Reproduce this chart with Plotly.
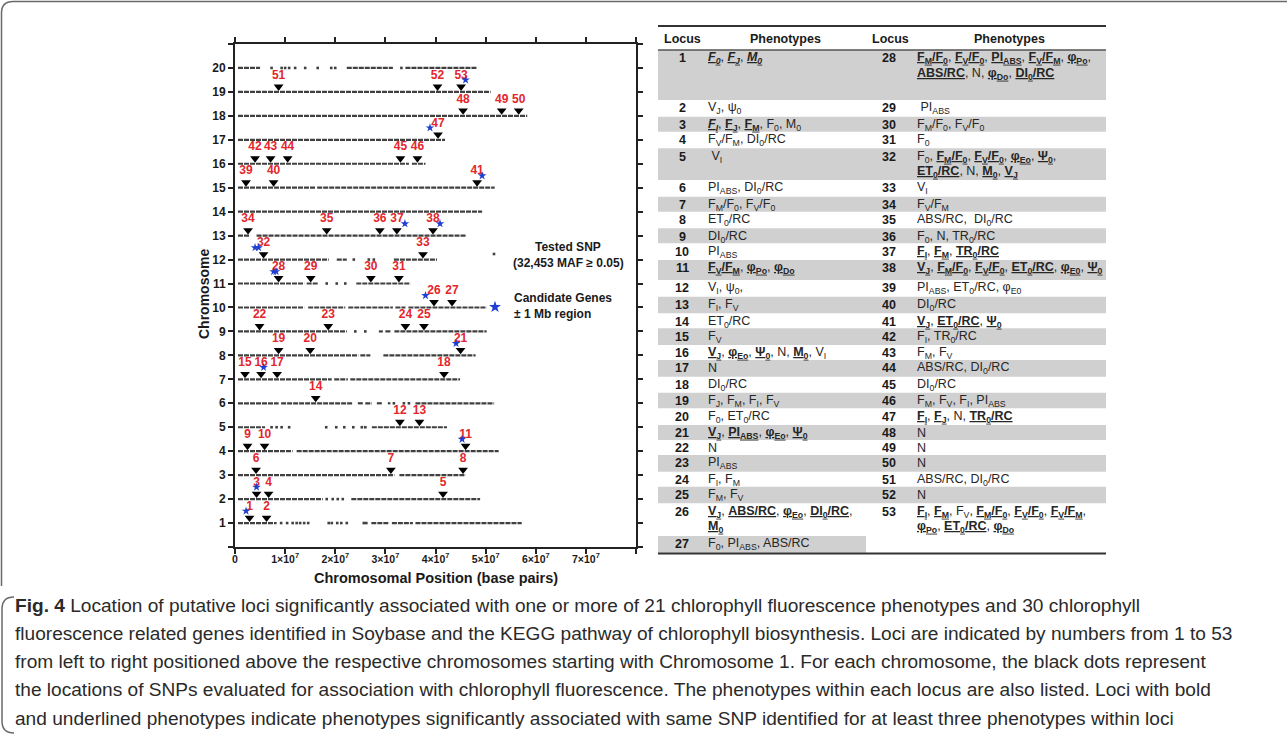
import plotly.graph_objects as go

# ---------------- data ----------------
CHROMOSOMES = list(range(1, 21))

# dense runs of tested SNPs on each chromosome (start Mb, end Mb)
SNP_RUNS = {
    1: [(0.6, 8.3), (27.2, 30.7), (31.3, 35.5), (36.0, 57.2)],
    2: [(0.6, 17.5), (23.2, 48.9)],
    3: [(0.6, 31.8), (32.8, 46.0)],
    4: [(0.6, 11.5), (12.3, 52.6)],
    5: [(0.6, 6.0), (27.3, 42.3)],
    6: [(0.6, 8.7), (9.2, 23.5), (24.5, 25.5), (26.0, 27.3), (28.3, 29.3), (30.5, 31.0), (36.0, 51.7)],
    7: [(0.6, 19.3), (19.8, 22.5), (23.0, 44.9)],
    8: [(0.6, 24.6), (25.0, 27.0), (29.6, 48.0)],
    9: [(0.6, 22.3), (28.7, 29.5), (30.0, 31.2), (31.8, 50.2)],
    10: [(0.6, 13.8), (14.6, 22.0), (22.6, 31.5), (32.0, 34.0), (34.6, 50.2)],
    11: [(0.6, 13.8), (14.3, 16.5), (24.2, 35.0)],
    12: [(0.6, 18.7), (20.3, 22.3), (31.7, 40.3)],
    13: [(0.6, 3.0), (4.3, 46.2)],
    14: [(0.6, 49.3)],
    15: [(0.6, 16.0), (16.4, 51.8)],
    16: [(0.6, 34.7), (35.3, 38.0)],
    17: [(0.6, 41.9)],
    18: [(0.6, 58.3)],
    19: [(0.6, 51.0)],
    20: [(0.6, 5.0), (22.3, 31.5), (34.0, 48.2)],
}
# isolated SNPs (Mb)
SNP_SPARSE = {
    1: [9.2, 10.4, 11.5, 12.3, 13.0, 13.8, 14.6, 18.7, 19.3, 20.4, 21.2, 22.3, 25.7, 26.2],
    2: [18.3, 19.5, 20.5, 21.5],
    5: [7.3, 8.3, 9.3, 10.8, 18.2, 20.2, 21.8, 23.6, 25.3, 26.0],
    6: [31.7, 33.7, 34.7],
    9: [24.0, 26.0],
    11: [18.3, 20.3, 22.0],
    12: [23.7, 26.7, 27.7],
    20: [7.3, 9.3, 10.0, 10.8, 12.0, 14.0, 16.5, 19.2, 20.0, 33.2],
}

LOCUS_ID = list(range(1, 54))
LOCUS_CHR = [1, 1, 2, 2, 2, 3, 3, 3, 4, 4, 4, 5, 5, 6, 7, 7, 7, 7, 8, 8, 8,
             9, 9, 9, 9, 10, 10, 11, 11, 11, 11, 12, 12, 13, 13, 13, 13, 13,
             15, 15, 15, 16, 16, 16, 16, 16, 17, 18, 18, 18, 19, 19, 19]
LOCUS_POS_MB = [2.9, 6.3, 4.3, 6.7, 41.5, 4.2, 31.1, 45.5, 2.5, 5.9, 46.0,
                32.9, 36.8, 16.1, 2.0, 5.2, 8.4, 41.7, 8.7, 15.0, 45.0,
                4.9, 18.6, 34.0, 37.7, 39.7, 43.3, 8.7, 15.1, 27.1, 32.7,
                5.7, 37.5, 2.6, 18.3, 28.9, 32.3, 39.5, 2.2, 7.7, 48.3,
                4.0, 7.1, 10.5, 33.0, 36.4, 40.5, 45.5, 53.2, 56.6, 8.7, 40.4, 45.1]

GENE_CHR = [1, 2, 4, 7, 8, 10, 11, 11, 12, 12, 13, 13, 15, 17, 19]
GENE_POS_MB = [2.2, 4.3, 45.3, 5.7, 44.1, 38.0, 7.7, 8.2, 4.0, 4.7, 33.9, 40.9, 49.3, 38.9, 46.0]

X_TICK_VALS = [0, 1e7, 2e7, 3e7, 4e7, 5e7, 6e7, 7e7, 8e7]
X_TICK_TEXT = ["0"] + [f"{i}×10<sup>7</sup>" for i in range(1, 8)] + [""]


def U(t):
    return f"<b><u>{t}</u></b>"


def UI(t):
    return f"<b><i><u>{t}</u></i></b>"


PHENO_LEFT = [
    UI("F<sub>0</sub>") + ", " + UI("F<sub>J</sub>") + ", " + UI("M<sub>0</sub>"),
    "V<sub>J</sub>, ψ<sub>0</sub>",
    UI("F<sub>I</sub>") + ", " + U("F<sub>J</sub>") + ", " + U("F<sub>M</sub>") + ", F<sub>0</sub>, M<sub>0</sub>",
    "F<sub>V</sub>/F<sub>M</sub>, DI<sub>0</sub>/RC",
    "\u00a0V<sub>I</sub>",
    "PI<sub>ABS</sub>, DI<sub>0</sub>/RC",
    "F<sub>M</sub>/F<sub>0</sub>, F<sub>V</sub>/F<sub>0</sub>",
    "ET<sub>0</sub>/RC",
    "DI<sub>0</sub>/RC",
    "PI<sub>ABS</sub>",
    U("F<sub>V</sub>/F<sub>M</sub>") + ", " + U("φ<sub>Po</sub>") + ", " + U("φ<sub>Do</sub>"),
    "V<sub>I</sub>, ψ<sub>0</sub>,",
    "F<sub>I</sub>, F<sub>V</sub>",
    "ET<sub>0</sub>/RC",
    "F<sub>V</sub>",
    U("V<sub>J</sub>") + ", " + U("φ<sub>Eo</sub>") + ", " + U("Ψ<sub>0</sub>") + ", N, " + U("M<sub>0</sub>") + ", V<sub>I</sub>",
    "N",
    "DI<sub>0</sub>/RC",
    "F<sub>J</sub>, F<sub>M</sub>, F<sub>I</sub>, F<sub>V</sub>",
    "F<sub>0</sub>, ET<sub>0</sub>/RC",
    U("V<sub>J</sub>") + ", " + U("PI<sub>ABS</sub>") + ", " + U("φ<sub>Eo</sub>") + ", " + U("Ψ<sub>0</sub>"),
    "N",
    "PI<sub>ABS</sub>",
    "F<sub>I</sub>, F<sub>M</sub>",
    "F<sub>M</sub>, F<sub>V</sub>",
    U("V<sub>J</sub>") + ", " + U("ABS/RC") + ", " + U("φ<sub>Eo</sub>") + ", " + U("DI<sub>0</sub>/RC") + ",<br>" + U("M<sub>0</sub>"),
    "F<sub>0</sub>, PI<sub>ABS</sub>, ABS/RC",
]
PHENO_RIGHT = [
    U("F<sub>M</sub>/F<sub>0</sub>") + ", " + U("F<sub>V</sub>/F<sub>0</sub>") + ", " + U("PI<sub>ABS</sub>") + ", "
    + U("F<sub>V</sub>/F<sub>M</sub>") + ", " + U("φ<sub>Po</sub>") + ",<br>" + U("ABS/RC") + ", N, "
    + U("φ<sub>Do</sub>") + ", " + U("DI<sub>0</sub>/RC"),
    "\u00a0PI<sub>ABS</sub>",
    "F<sub>M</sub>/F<sub>0</sub>, F<sub>V</sub>/F<sub>0</sub>",
    "F<sub>0</sub>",
    "F<sub>0</sub>, " + U("F<sub>M</sub>/F<sub>0</sub>") + ", " + U("F<sub>V</sub>/F<sub>0</sub>") + ", " + U("φ<sub>Eo</sub>")
    + ", " + U("Ψ<sub>0</sub>") + ",<br>" + U("ET<sub>0</sub>/RC") + ", N, " + U("M<sub>0</sub>") + ", " + U("V<sub>J</sub>"),
    "V<sub>I</sub>",
    "F<sub>V</sub>/F<sub>M</sub>",
    "ABS/RC,\u00a0 DI<sub>0</sub>/RC",
    "F<sub>0</sub>, N, TR<sub>0</sub>/RC",
    U("F<sub>I</sub>") + ", " + U("F<sub>M</sub>") + ", " + U("TR<sub>0</sub>/RC"),
    U("V<sub>J</sub>") + ", " + U("F<sub>M</sub>/F<sub>0</sub>") + ", " + U("F<sub>V</sub>/F<sub>0</sub>") + ", "
    + U("ET<sub>0</sub>/RC") + ", " + U("φ<sub>E0</sub>") + ", " + U("Ψ<sub>0</sub>"),
    "PI<sub>ABS</sub>, ET<sub>0</sub>/RC, φ<sub>E0</sub>",
    "DI<sub>0</sub>/RC",
    U("V<sub>J</sub>") + ", " + U("ET<sub>0</sub>/RC") + ", " + U("Ψ<sub>0</sub>"),
    "F<sub>I</sub>, TR<sub>0</sub>/RC",
    "F<sub>M</sub>, F<sub>V</sub>",
    "ABS/RC, DI<sub>0</sub>/RC",
    "DI<sub>0</sub>/RC",
    "F<sub>M</sub>, F<sub>V</sub>, F<sub>I</sub>, PI<sub>ABS</sub>",
    U("F<sub>I</sub>") + ", " + U("F<sub>J</sub>") + ", N, " + U("TR<sub>0</sub>/RC"),
    "N",
    "N",
    "N",
    "ABS/RC, DI<sub>0</sub>/RC",
    "N",
    U("F<sub>I</sub>") + ", " + U("F<sub>M</sub>") + ", F<sub>V</sub>, " + U("F<sub>M</sub>/F<sub>0</sub>") + ", "
    + U("F<sub>V</sub>/F<sub>0</sub>") + ", " + U("F<sub>V</sub>/F<sub>M</sub>") + ",<br>" + U("φ<sub>Po</sub>") + ", "
    + U("ET<sub>0</sub>/RC") + ", " + U("φ<sub>Do</sub>"),
]
LEFT_LOCI = list(range(1, 28))
RIGHT_LOCI = list(range(28, 54))

CAPTION_LINES = [
    "<b>Fig. 4</b> Location of putative loci significantly associated with one or more of 21 chlorophyll fluorescence phenotypes and 30 chlorophyll",
    "fluorescence related genes identified in Soybase and the KEGG pathway of chlorophyll biosynthesis. Loci are indicated by numbers from 1 to 53",
    "from left to right positioned above the respective chromosomes starting with Chromosome 1. For each chromosome, the black dots represent",
    "the locations of SNPs evaluated for association with chlorophyll fluorescence. The phenotypes within each locus are also listed. Loci with bold",
    "and underlined phenotypes indicate phenotypes significantly associated with same SNP identified for at least three phenotypes within loci",
]

# ---------------- layout geometry (pixels) ----------------
FIG_W, FIG_H = 1287, 737
PL, PR, PT, PB = 235, 636, 44, 547
X_MAX, Y_MAX = 8e7, 21
FONT = "Liberation Sans, Arial, sans-serif"
CAP_FONT = "Liberation Sans, Arial, sans-serif"
RED = "#e3262c"
BLUE = "#1e3fd0"
SNP_COLOR = "#404040"
TRI_DY, LABEL_DY, STAR_DY = 0.22, 0.68, 0.5


def px2x(px):
    return (px - PL) / (PR - PL)


def py2y(py):
    return (PB - py) / (PB - PT)


def px2data(px, py):
    return (px - PL) / (PR - PL) * X_MAX, (PB - py) / (PB - PT) * Y_MAX


fig = go.Figure()

# SNP runs
xs, ys = [], []
for c in CHROMOSOMES:
    for a, b in SNP_RUNS.get(c, []):
        xs += [a * 1e6, b * 1e6, None]
        ys += [c, c, None]
fig.add_trace(go.Scatter(x=xs, y=ys, mode="lines", line=dict(color=SNP_COLOR, width=2.2, dash="5px,1px"),
                         hoverinfo="skip", showlegend=False))
sx, sy = [], []
for c, pts in SNP_SPARSE.items():
    for p in pts:
        sx.append(p * 1e6)
        sy.append(c)
fig.add_trace(go.Scatter(x=sx, y=sy, mode="markers", marker=dict(symbol="square", size=2.6, color=SNP_COLOR, line=dict(width=0)),
                         hoverinfo="skip", showlegend=False))

# loci triangles and numbers
lx = [p * 1e6 for p in LOCUS_POS_MB]
fig.add_trace(go.Scatter(x=lx, y=[c + TRI_DY for c in LOCUS_CHR], mode="markers",
                         marker=dict(symbol="triangle-down", size=8.5, color="black", line=dict(width=0)),
                         hoverinfo="skip", showlegend=False))
fig.add_trace(go.Scatter(x=lx, y=[c + LABEL_DY for c in LOCUS_CHR], mode="text",
                         text=[f"<b>{i}</b>" for i in LOCUS_ID],
                         textfont=dict(family=FONT, size=12, color=RED), textposition="middle center",
                         hoverinfo="skip", showlegend=False))
# candidate genes
fig.add_trace(go.Scatter(x=[p * 1e6 for p in GENE_POS_MB], y=[c + STAR_DY for c in GENE_CHR], mode="markers",
                         marker=dict(symbol="star", size=6.5, color=BLUE, line=dict(width=0)),
                         hoverinfo="skip", showlegend=False))
# legend symbols
dx, dy = px2data(494, 254)
fig.add_trace(go.Scatter(x=[dx], y=[dy], mode="markers", marker=dict(symbol="square", size=2.6, color=SNP_COLOR),
                         hoverinfo="skip", showlegend=False))
gx, gy = px2data(495, 307)
fig.add_trace(go.Scatter(x=[gx], y=[gy], mode="markers", marker=dict(symbol="star", size=9, color=BLUE, line=dict(width=0)),
                         hoverinfo="skip", showlegend=False))

annotations = []
shapes = []


def ann(px, py, text, size, color="#1a1a1a", xanchor="center", yanchor="middle", family=FONT, angle=0):
    annotations.append(dict(x=px2x(px), y=py2y(py), xref="paper", yref="paper", text=text, showarrow=False,
                            font=dict(family=family, size=size, color=color), xanchor=xanchor, yanchor=yanchor,
                            textangle=angle, borderpad=0))


def rect(x0, y0, x1, y1, color):
    shapes.append(dict(type="rect", xref="paper", yref="paper", x0=px2x(x0), x1=px2x(x1), y0=py2y(y0), y1=py2y(y1),
                       fillcolor=color, line=dict(width=0), layer="below"))


def hline(x0, x1, y, width, color="#333"):
    shapes.append(dict(type="line", xref="paper", yref="paper", x0=px2x(x0), x1=px2x(x1), y0=py2y(y), y1=py2y(y),
                       line=dict(color=color, width=width)))


# axis titles and legend texts
ann(204, 294, "<b>Chromosome</b>", 14, angle=-90)
ann(436, 578, "<b>Chromosomal Position (base pairs)</b>", 14.5)
ann(568, 247, "<b>Tested SNP</b>", 12)
ann(568, 263, "<b>(32,453 MAF ≥ 0.05)</b>", 12)
ann(513, 298, "<b>Candidate Genes</b>", 12, xanchor="left")
ann(513, 314, "<b>± 1 Mb region</b>", 12, xanchor="left")

# ---------------- table ----------------
T_L, T_R, T_MID = 658, 1106, 866
ROW_TOPS = [50, 100, 116.7, 131.7, 148.3, 180, 196.7, 211.7, 228.3, 243.3, 260, 280, 296.7, 313.3,
            328.3, 345, 360, 376.7, 392.7, 408.3, 425, 440, 455, 471.7, 486.7, 503.3, 536]
ROW_END = 552.7
GRAY = "#d0d0d0"
TS = 12.5
for i, top in enumerate(ROW_TOPS):
    bot = ROW_TOPS[i + 1] if i + 1 < len(ROW_TOPS) else ROW_END
    if i % 2 == 0:
        rect(T_L, top, T_MID if i == len(ROW_TOPS) - 1 else T_R, bot, GRAY)
hline(T_L, T_R, 26, 2.2, "#333")
hline(T_L, T_R, 50, 1.6, "#555")
hline(T_L, T_R, 553.5, 2.2, "#333")
ann(682, 39, "<b>Locus</b>", TS)
ann(785, 39, "<b>Phenotypes</b>", TS)
ann(890, 39, "<b>Locus</b>", TS)
ann(1009, 39, "<b>Phenotypes</b>", TS)


def table_cell(row, loc, pheno, xnum, xtext):
    y0 = ROW_TOPS[row] + 8.3
    ann(xnum, y0, f"<b>{loc}</b>", TS)
    for k, line in enumerate(pheno.split("<br>")):
        ann(xtext, y0 + k * 15.5, line, TS, color="#262626", xanchor="left")


for r, (loc, ph) in enumerate(zip(LEFT_LOCI, PHENO_LEFT)):
    table_cell(r, loc, ph, 682, 707)
for r, (loc, ph) in enumerate(zip(RIGHT_LOCI, PHENO_RIGHT)):
    table_cell(r, loc, ph, 889, 916)

# ---------------- caption ----------------
for k, line in enumerate(CAPTION_LINES):
    ann(14, 605 + k * 28.3, line, 19.1, color="#2a2a2a", xanchor="left", family=CAP_FONT)

# frame borders
def P(px, py):
    return f"{px2x(px):.5f},{py2y(py):.5f}"


shapes.append(dict(type="path", xref="paper", yref="paper",
                   path=f"M {P(1290, 1.5)} L {P(13, 1.5)} Q {P(1.5, 1.5)} {P(1.5, 13)} L {P(1.5, 586)}",
                   line=dict(color="#6a6a6a", width=1.5)))
shapes.append(dict(type="path", xref="paper", yref="paper",
                   path=f"M {P(14, 597)} Q {P(2, 597)} {P(2, 609)} L {P(2, 721)} Q {P(2, 733)} {P(14, 733)}",
                   line=dict(color="#6a6a6a", width=1.5)))

axis_common = dict(showline=True, linewidth=2, linecolor="#222", mirror="allticks", ticks="outside",
                   ticklen=5, tickwidth=2, tickcolor="#222", showgrid=False, zeroline=False)
fig.update_layout(
    width=FIG_W, height=FIG_H, autosize=False,
    margin=dict(l=PL, r=FIG_W - PR, t=PT, b=FIG_H - PB),
    paper_bgcolor="white", plot_bgcolor="white",
    xaxis=dict(range=[0, X_MAX], tickvals=X_TICK_VALS, ticktext=X_TICK_TEXT, ticklabelstandoff=-4,
               tickfont=dict(family=FONT, size=10.5, color="#1a1a1a", weight="bold"), **axis_common),
    yaxis=dict(range=[0, Y_MAX], tickvals=list(range(0, 22)),
               ticktext=[""] + [str(c) for c in CHROMOSOMES] + [""],
               tickfont=dict(family=FONT, size=12, color="#1a1a1a", weight="bold"), **axis_common),
    annotations=annotations, shapes=shapes, showlegend=False,
)

fig.write_html("out.html", config={"displayModeBar": False},
               post_script="document.body.style.margin='0';document.body.style.overflow='hidden';")
